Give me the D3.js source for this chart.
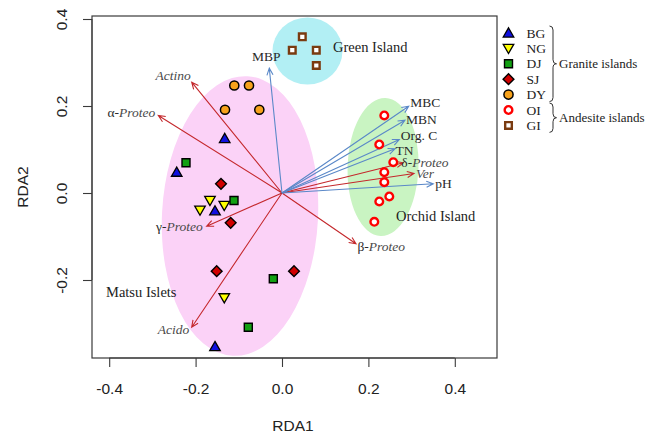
<!DOCTYPE html>
<html><head><meta charset="utf-8">
<script src="https://cdn.jsdelivr.net/npm/d3@7"></script>
<style>html,body{margin:0;padding:0;background:#fff;}svg{display:block;}</style>
</head><body>
<svg id="chart" width="648" height="441"></svg>
<script>
// ---------- DATA ----------
const sites = ["BG","NG","DJ","SJ","DY","OI","GI"];
const siteX = {
  BG: [-0.1326,-0.2437,-0.1551,-0.1551],
  NG: [-0.1667,-0.1898,-0.1336,-0.1336],
  DJ: [-0.2222,-0.1111,-0.0201,-0.0780],
  SJ: [-0.1412,-0.1188,-0.1512, 0.0278],
  DY: [-0.1104,-0.0764,-0.1319,-0.0525],
  OI: [0.2368,0.2252,0.2576,0.2368,0.2368,0.2484,0.2252,0.2137],
  GI: [0.0470,0.0238,0.0794,0.0794]
};
const siteY = {
  BG: [0.1253,0.0478,-0.0409,-0.3529],
  NG: [-0.0172,-0.0395,-0.0287,-0.2409],
  DJ: [0.0694,-0.0172,-0.1972,-0.3085],
  SJ: [0.0211,-0.0685,-0.1798,-0.1798],
  DY: [0.2471,0.2471,0.1913,0.1913],
  OI: [0.1782,0.1115,0.0708,0.0478,0.0248,-0.0080,-0.0195,-0.0662],
  GI: [0.3591,0.3283,0.3283,0.2931]
};
const envNames = ["MBP","MBC","MBN","Org. C","TN","pH"];
const envX = [-0.0294,0.2933,0.2847,0.2715,0.2616,0.3502];
const envY = [0.2869,0.1995,0.1674,0.1230,0.1016,0.0211];
const bacPrefix = ["","α-","δ-","","γ-","β-",""];
const bacNames  = ["Actino","Proteo","Proteo","Ver","Proteo","Proteo","Acido"];
const bacX = [-0.2090,-0.2863,0.2808,0.3056,-0.1744,0.1713,-0.2090];
const bacY = [0.2547,0.1782,0.0694,0.0448,-0.0763,-0.1168,-0.3085];
const xTicks = [-0.4,-0.2,0.0,0.2,0.4];
const yTicks = [-0.2,0.0,0.2,0.4];
const groupNames = ["Matsu Islets","Green Island","Orchid Island"];
const groupCx = [-0.0972,0.0590,0.2338];
const groupCy = [-0.0529,0.3264,0.0598];
const groupRx = [0.1806,0.0810,0.0822];
const groupRy = [0.3218,0.0770,0.1586];
const legendGroups = [["Granite islands",["BG","NG","DJ","SJ","DY"]],["Andesite islands",["OI","GI"]]];

// ---------- STYLE ----------
const W = 648, H = 441;
const frame = {l:92, r:497, t:16, b:358};
const siteStyle = {
  BG:{type:"tri", fill:"#1010e0", stroke:"#000", size:48, sw:1.3},
  NG:{type:"tridown", fill:"#ffff00", stroke:"#000", size:48, sw:1.3},
  DJ:{type:"sq", fill:"#12a012", stroke:"#000", size:64, sw:1.4},
  SJ:{type:"dia", fill:"#d00000", stroke:"#000", size:58, sw:1.4},
  DY:{type:"circ", fill:"#f7a21b", stroke:"#000", size:66, sw:1.5},
  OI:{type:"circ", fill:"#fff", stroke:"#ff0000", size:46, sw:2.4},
  GI:{type:"sq", fill:"#fff", stroke:"#7a3b10", size:44, sw:2.4}
};
const groupFill = ["#fbd2f7","#b2eff4","#c9f4c2"];
const groupRot = [3,0,2];
const groupLbl = [{x:106,y:297,a:"start"},{x:333,y:52,a:"start"},{x:396,y:221,a:"start"}];
const envLbl = [{a:"middle",dx:-3,dy:-7.5},{a:"start",dx:1.5,dy:0.5},{a:"start",dx:1,dy:4},
                {a:"start",dx:1.5,dy:1},{a:"start",dx:0.5,dy:6},{a:"start",dx:2,dy:4.5}];
const bacLbl = [{a:"end",dx:-1,dy:-2},{a:"end",dx:-3,dy:1.5},{a:"start",dx:-2,dy:4.5},
                {a:"start",dx:2,dy:4},{a:"end",dx:-4,dy:4.5},{a:"start",dx:1.5,dy:7},{a:"end",dx:-2.5,dy:7}];
const red = "#c4282c", blue = "#5a88c8";

const x = d3.scaleLinear().domain([-0.4398,0.4977]).range([frame.l, frame.r]);
const y = d3.scaleLinear().domain([-0.3793,0.4069]).range([frame.b, frame.t]);
const pxPerX = x(1)-x(0), pxPerY = y(0)-y(1);

const svg = d3.select("#chart");
svg.append("rect").attr("width",W).attr("height",H).attr("fill","#fff");

// ellipses
groupNames.forEach((g,i)=>{
  svg.append("ellipse")
    .attr("cx",x(groupCx[i])).attr("cy",y(groupCy[i]))
    .attr("rx",groupRx[i]*pxPerX).attr("ry",groupRy[i]*pxPerY)
    .attr("transform",`rotate(${groupRot[i]},${x(groupCx[i])},${y(groupCy[i])})`)
    .attr("fill",groupFill[i]);
});

// arrows
function arrow(x1,y1,x2,y2,color){
  const ang = Math.atan2(y2-y1,x2-x1), L=7.5, a=0.42;
  const p = d3.path();
  p.moveTo(x1,y1); p.lineTo(x2,y2);
  p.moveTo(x2-L*Math.cos(ang-a), y2-L*Math.sin(ang-a)); p.lineTo(x2,y2);
  p.lineTo(x2-L*Math.cos(ang+a), y2-L*Math.sin(ang+a));
  svg.append("path").attr("d",p.toString()).attr("fill","none")
    .attr("stroke",color).attr("stroke-width",1.1);
}
bacNames.forEach((n,i)=>arrow(x(0),y(0),x(bacX[i]),y(bacY[i]),red));
envNames.forEach((n,i)=>arrow(x(0),y(0),x(envX[i]),y(envY[i]),blue));

// arrow labels
const serif = "'Liberation Serif','Times New Roman',serif";
envNames.forEach((n,i)=>{
  svg.append("text").attr("x",x(envX[i])+envLbl[i].dx).attr("y",y(envY[i])+envLbl[i].dy)
    .attr("text-anchor",envLbl[i].a).attr("font-family",serif).attr("font-size",13.5)
    .attr("fill","#2a2a2a").text(n);
});
bacNames.forEach((n,i)=>{
  const t = svg.append("text").attr("x",x(bacX[i])+bacLbl[i].dx).attr("y",y(bacY[i])+bacLbl[i].dy)
    .attr("text-anchor",bacLbl[i].a).attr("font-family",serif).attr("font-size",13.5)
    .attr("fill","#4a4a4a");
  if(bacPrefix[i]) t.append("tspan").attr("fill","#2a2a2a").text(bacPrefix[i]);
  t.append("tspan").attr("font-style","italic").text(n);
});

// group labels
groupNames.forEach((g,i)=>{
  svg.append("text").attr("x",groupLbl[i].x).attr("y",groupLbl[i].y)
    .attr("text-anchor",groupLbl[i].a).attr("font-family",serif).attr("font-size",14.5)
    .attr("fill","#222").text(g);
});

// symbols
function sym(type,size){
  if(type==="tri"||type==="tridown") return d3.symbol(d3.symbolTriangle,size)();
  if(type==="sq"||type==="dia") return d3.symbol(d3.symbolSquare,size)();
  return d3.symbol(d3.symbolCircle,size)();
}
function drawSym(g,s,cx,cy){
  const rot = s.type==="tridown"?180:(s.type==="dia"?45:0);
  const dyc = s.type==="tri"?1:(s.type==="tridown"?-1:0);
  g.append("path").attr("d",sym(s.type,s.size))
    .attr("transform",`translate(${cx},${cy+dyc}) rotate(${rot})`)
    .attr("fill",s.fill).attr("stroke",s.stroke).attr("stroke-width",s.sw)
    .attr("stroke-linejoin","miter");
}
sites.forEach(s=>{
  siteX[s].forEach((vx,i)=>drawSym(svg,siteStyle[s],x(vx),y(siteY[s][i])));
});

// frame
svg.append("rect").attr("x",frame.l).attr("y",frame.t)
  .attr("width",frame.r-frame.l).attr("height",frame.b-frame.t)
  .attr("fill","none").attr("stroke","#3a3a3a").attr("stroke-width",1.2);

// axes
const sans = "'Liberation Sans',Arial,sans-serif";
const xa = svg.append("g").attr("transform",`translate(0,${frame.b})`)
  .call(d3.axisBottom(x).tickValues(xTicks).tickFormat(d3.format(".1f")).tickSize(9).tickPadding(16));
const ya = svg.append("g").attr("transform",`translate(${frame.l},0)`)
  .call(d3.axisLeft(y).tickValues(yTicks).tickFormat(d3.format(".1f")).tickSize(9));
[xa,ya].forEach(a=>{
  a.select(".domain").remove();
  a.selectAll(".tick line").attr("stroke","#3a3a3a").attr("stroke-width",1.1);
  a.selectAll("text").attr("font-family",sans).attr("font-size",15.5).attr("fill","#222");
});
xa.selectAll("text").text(d=>d3.format(".1f")(d).replace("−","-"));
ya.selectAll("text").text(d=>d3.format(".1f")(d).replace("−","-"))
  .attr("x",null).attr("dy",null).attr("text-anchor","middle")
  .attr("transform","translate(-25.5,0) rotate(-90)");
svg.append("line").attr("x1",frame.l).attr("x2",frame.l).attr("y1",y(-0.2)).attr("y2",y(0.4)).attr("stroke","#3a3a3a");
svg.append("line").attr("y1",frame.b).attr("y2",frame.b).attr("x1",x(-0.4)).attr("x2",x(0.4)).attr("stroke","#3a3a3a");

svg.append("text").attr("x",x(0)+11).attr("y",431).attr("text-anchor","middle")
  .attr("font-family",sans).attr("font-size",15.5).attr("fill","#222").text("RDA1");
svg.append("text").attr("transform","translate(27.5,187) rotate(-90)").attr("text-anchor","middle")
  .attr("font-family",sans).attr("font-size",15.5).attr("fill","#222").text("RDA2");

// legend
const lg = svg.append("g");
const rowY0 = 33, rowStep = 15.4, symX = 508.5, txtX = 526.5;
let row = 0;
legendGroups.forEach(([gname,members])=>{
  const y0 = rowY0 + row*rowStep;
  members.forEach((m,j)=>{
    const yy = rowY0 + (row+j)*rowStep;
    drawSym(lg,siteStyle[m],symX,yy);
    lg.append("text").attr("x",txtX).attr("y",yy+4.5).attr("font-family",serif)
      .attr("font-size",13.5).attr("fill","#222").text(m);
  });
  const y1 = rowY0 + (row+members.length-1)*rowStep;
  const top = y0-7, bot = y1+7, mid=(top+bot)/2, bx=549.5, w=3.5;
  const p = d3.path();
  p.moveTo(bx,top); p.quadraticCurveTo(bx+w,top,bx+w,top+4);
  p.lineTo(bx+w,mid-4); p.quadraticCurveTo(bx+w,mid,bx+2*w,mid);
  p.quadraticCurveTo(bx+w,mid,bx+w,mid+4); p.lineTo(bx+w,bot-4);
  p.quadraticCurveTo(bx+w,bot,bx,bot);
  lg.append("path").attr("d",p.toString()).attr("fill","none").attr("stroke","#333").attr("stroke-width",1);
  lg.append("text").attr("x",559).attr("y",mid+4.5).attr("font-family",serif)
    .attr("font-size",13).attr("fill","#222").text(gname);
  row += members.length;
});
</script>
</body></html>
